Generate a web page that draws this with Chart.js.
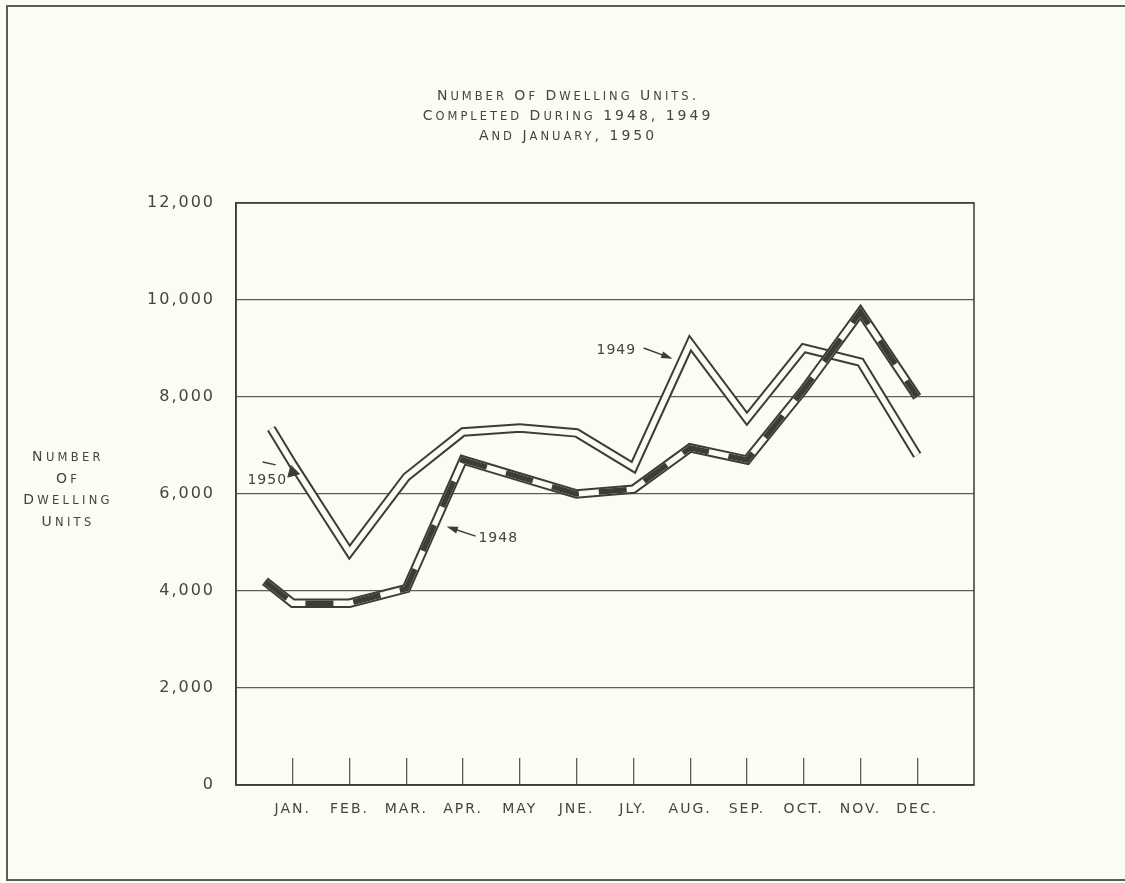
<!DOCTYPE html>
<html>
<head>
<meta charset="utf-8">
<title>Number Of Dwelling Units</title>
<script src="https://cdn.jsdelivr.net/npm/chart.js@4.4.1/dist/chart.umd.min.js"></script>
<style>
  html, body { margin: 0; padding: 0; background: #fbfcf3; }
  #page { position: relative; width: 1125px; height: 883px; overflow: hidden; }
  #frame {
    position: absolute; left: 6px; top: 5px; width: 1140px; height: 876px;
    border: 2px solid #5a5d55; box-sizing: border-box;
  }
  .lettering {
    position: absolute; color: #44463f; font-family: "DejaVu Sans", sans-serif;
    text-align: center; white-space: nowrap; font-size: 14px;
  }
  .lettering .sc { font-size: 11.5px; line-height: 1; }
  #title { left: 368px; width: 400px; top: 85px; line-height: 20px; letter-spacing: 3px; }
  #ytitle { left: 8px; width: 120px; top: 446px; line-height: 21.5px; letter-spacing: 3.3px; }
  #wrap { position: absolute; left: 0; top: 0; width: 1125px; height: 883px; }
</style>
</head>
<body>
<div id="page">
  <div id="frame"></div>
  <div id="wrap"><canvas id="chart"></canvas></div>
  <div id="title" class="lettering"></div>
  <div id="ytitle" class="lettering"></div>
</div>
<script>
// Data
const months = ['Jan.', 'Feb.', 'Mar.', 'Apr.', 'May', 'Jne.', 'Jly.', 'Aug.', 'Sep.', 'Oct.', 'Nov.', 'Dec.'];
const yTicks = [0, 2000, 4000, 6000, 8000, 10000, 12000];
const units1948 = [3750, 3750, 4050, 6700, 6350, 6000, 6100, 6950, 6700, 8150, 9750, 8000];
const units1949 = [6620, 4800, 6350, 7280, 7360, 7260, 6550, 9110, 7550, 9010, 8720, 6800];
const units1950 = [6450];
// short lead-in stubs where the lines come in from the left
const stubAt = [0.51, 0.62];     // 1948, 1949 (in month units)
const stubUnits = [4200, 7350];  // 1948, 1949

const titleLines = ['Number Of Dwelling Units.', 'Completed During 1948, 1949', 'And January, 1950'];
const yTitleLines = ['Number', 'Of', 'Dwelling', 'Units'];

const ink = '#3b3d37';
const gridInk = '#5b5e56';
const textInk = '#44463f';
const paper = '#fbfcf3';
const family = '"DejaVu Sans", sans-serif';

// draughtsman's small caps: lower case letters set as smaller capitals
function smallCaps(lines) {
    return lines.map(l => l.replace(/[a-z]+/g, m => '<span class="sc">' + m.toUpperCase() + '</span>')).join('<br>');
}
document.getElementById('title').innerHTML = smallCaps(titleLines);
document.getElementById('ytitle').innerHTML = smallCaps(yTitleLines);

function series(stubX, stubY, vals) {
    return [{x: stubX, y: stubY}].concat(vals.map((v, i) => ({x: i + 1, y: v})));
}

const s1948 = series(stubAt[0], stubUnits[0], units1948);
const s1949 = series(stubAt[1], stubUnits[1], units1949);

const band = {
    borderJoinStyle: 'miter',
    borderCapStyle: 'butt',
    pointRadius: 0,
    tension: 0,
    fill: false
};

// letter spacing for the hand-lettered look
const spacing = {
    id: 'spacing',
    beforeDraw(chart) { chart.ctx.letterSpacing = '2px'; }
};

// plot frame
const frame = {
    id: 'frame',
    beforeDatasetsDraw(chart) {
        const {ctx, chartArea: a} = chart;
        ctx.save();
        ctx.strokeStyle = ink;
        ctx.lineWidth = 1.5;
        ctx.strokeRect(a.left, a.top, a.right - a.left, a.bottom - a.top);
        ctx.restore();
    }
};

// year labels with their pointers, placed in data units
const notes = {
    id: 'notes',
    afterDatasetsDraw(chart, args, opts) {
        const {ctx, scales: {x, y}} = chart;
        ctx.save();
        ctx.fillStyle = textInk;
        ctx.strokeStyle = ink;
        ctx.lineWidth = 1.4;
        ctx.letterSpacing = '1px';
        ctx.font = '14px ' + family;
        ctx.textAlign = 'center';
        ctx.textBaseline = 'middle';
        opts.items.forEach(n => {
            ctx.fillText(n.text, x.getPixelForValue(n.at[0]), y.getPixelForValue(n.at[1]));
            const x1 = x.getPixelForValue(n.from[0]), y1 = y.getPixelForValue(n.from[1]);
            const x2 = x.getPixelForValue(n.to[0]), y2 = y.getPixelForValue(n.to[1]);
            ctx.beginPath();
            ctx.moveTo(x1, y1);
            ctx.lineTo(x2, y2);
            ctx.stroke();
            if (n.head) {
                const ang = Math.atan2(y2 - y1, x2 - x1);
                ctx.fillStyle = ink;
                ctx.beginPath();
                ctx.moveTo(x2 + Math.cos(ang) * 3, y2 + Math.sin(ang) * 3);
                ctx.lineTo(x2 - Math.cos(ang - 0.4) * 9, y2 - Math.sin(ang - 0.4) * 9);
                ctx.lineTo(x2 - Math.cos(ang + 0.4) * 9, y2 - Math.sin(ang + 0.4) * 9);
                ctx.closePath();
                ctx.fill();
                ctx.fillStyle = textInk;
            }
        });
        ctx.restore();
    }
};

new Chart(document.getElementById('chart'), {
    type: 'line',
    data: {
        datasets: [
            {label: '1949 edge', data: s1949, borderColor: ink, borderWidth: 9.5, order: 6, ...band},
            {label: '1949', data: s1949, borderColor: paper, borderWidth: 5.5, order: 5, ...band},
            {label: '1948 edge', data: s1948, borderColor: ink, borderWidth: 9.5, order: 4, ...band},
            {label: '1948 fill', data: s1948, borderColor: paper, borderWidth: 5.5, order: 3, ...band},
            {label: '1948', data: s1948, borderColor: ink, borderWidth: 5.5, borderDash: [28, 20], order: 2, ...band},
            {
                label: '1950',
                data: units1950.map((v, i) => ({x: i + 1, y: v})),
                showLine: false,
                pointStyle: 'triangle',
                pointRadius: 7,
                rotation: 105,
                pointBackgroundColor: ink,
                pointBorderColor: ink,
                order: 1
            }
        ]
    },
    options: {
        responsive: true,
        maintainAspectRatio: false,
        animation: false,
        events: [],
        layout: {padding: {left: 0, top: 203, right: 151, bottom: 0}},
        plugins: {
            legend: {display: false},
            tooltip: {enabled: false},
            notes: {
                items: [
                    {text: '1950', at: [0.55, 6290], from: [0.47, 6660], to: [0.70, 6600], head: false},
                    {text: '1948', at: [4.62, 5090], from: [4.22, 5130], to: [3.76, 5310], head: true},
                    {text: '1949', at: [6.70, 8970], from: [7.18, 9010], to: [7.64, 8810], head: true}
                ]
            }
        },
        scales: {
            x: {
                type: 'linear',
                min: 0,
                max: 13,
                afterBuildTicks: s => { s.ticks = months.map((m, i) => ({value: i + 1})); },
                afterFit: s => { s.height = 98; },
                grid: {drawOnChartArea: false, drawTicks: true, tickLength: -27, color: gridInk, lineWidth: 1.3},
                border: {color: ink, width: 1.5},
                ticks: {
                    autoSkip: false,
                    maxRotation: 0,
                    padding: 43,
                    color: textInk,
                    font: {family: family, size: 14},
                    callback: v => (months[v - 1] || '').toUpperCase()
                }
            },
            y: {
                min: 0,
                max: 12000,
                afterBuildTicks: s => { s.ticks = yTicks.map(v => ({value: v})); },
                afterFit: s => { s.width = 236; },
                grid: {color: gridInk, lineWidth: 1.2, drawTicks: false},
                border: {color: ink, width: 1.5},
                ticks: {
                    padding: 21,
                    color: textInk,
                    font: {family: family, size: 16},
                    callback: v => v.toLocaleString('en-US')
                }
            }
        }
    },
    plugins: [spacing, frame, notes]
});
</script>
</body>
</html>
